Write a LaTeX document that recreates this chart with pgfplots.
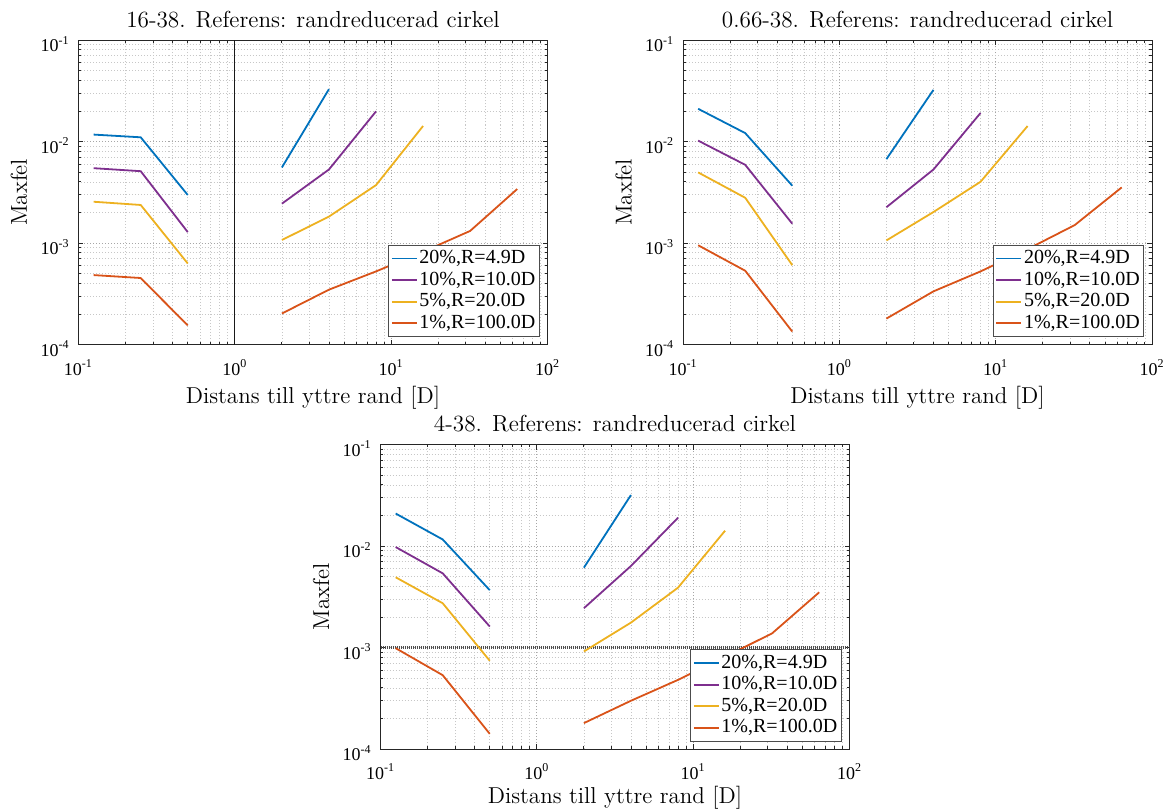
\documentclass[border=0pt]{standalone}
\usepackage{fontspec}
\usepackage{pgfplots}
\pgfplotsset{compat=1.18}
\newfontfamily\tnr{Liberation Serif}

\definecolor{mblue}{rgb}{0,0.447,0.741}
\definecolor{mred}{rgb}{0.85,0.325,0.098}
\definecolor{myellow}{rgb}{0.929,0.694,0.125}
\definecolor{mpurple}{rgb}{0.494,0.184,0.556}

% 1 px of the reference = 0.5pt
\pgfplotsset{
  matlabaxis/.style={
    scale only axis,
    width=234.5pt, height=152.25pt,
    xmin=0.1, xmax=100, ymin=1e-4, ymax=1e-1,
    unbounded coords=jump,
    axis line style={black!85, line width=0.5pt},
    tick style={black!85, line width=0.45pt},
    major tick length=2.5pt, minor tick length=1.4pt,
    tick align=inside, tick pos=both,
    xtick={0.1,1,10,100},
    xticklabels={10\textsuperscript{-1},10\textsuperscript{0},10\textsuperscript{1},10\textsuperscript{2}},
    minor xtick={0.2,0.3,0.4,0.5,0.6,0.7,0.8,0.9,2,3,4,5,6,7,8,9,20,30,40,50,60,70,80,90},
    ytick={1e-4,1e-3,1e-2,1e-1},
    yticklabels={10\textsuperscript{-4},10\textsuperscript{-3},10\textsuperscript{-2},10\textsuperscript{-1}},
    minor ytick={2e-4,3e-4,4e-4,5e-4,6e-4,7e-4,8e-4,9e-4,2e-3,3e-3,4e-3,5e-3,6e-3,7e-3,8e-3,9e-3,2e-2,3e-2,4e-2,5e-2,6e-2,7e-2,8e-2,9e-2},
    grid=both,
    major grid style={dash pattern=on 0.5pt off 1pt, black!35, line width=0.35pt},
    minor grid style={dash pattern=on 0.5pt off 1pt, black!22, line width=0.35pt},
    tick label style={font=\tnr\fontsize{9}{10}\selectfont, inner sep=0pt},
    xticklabel style={anchor=base, yshift=-15.25pt},
    yticklabel style={anchor=base east, xshift=-4.25pt, yshift=-5.85pt},
    title style={at={(0.5,1)}, anchor=base, yshift=0.5pt, font=\fontsize{11.6}{13}\selectfont},
    xlabel style={at={(axis description cs:0.5,0)}, anchor=base, yshift=-29.5pt, font=\fontsize{11.5}{13}\selectfont},
    ylabel style={at={(axis description cs:0,0.5)}, anchor=base, yshift=25.75pt, font=\fontsize{11.5}{13}\selectfont},
    xlabel={Distans till yttre rand [D]},
    ylabel={Maxfel},
    legend style={at={(1,0)}, anchor=south east, xshift=-4pt, yshift=3.75pt,
      font=\tnr\fontsize{10}{11}\selectfont, draw=black!70, line width=0.5pt,
      inner xsep=1pt, inner ysep=1.2pt, row sep=0pt,
      nodes={inner sep=0.9pt, text height=7pt, text depth=2pt}},
    legend cell align=left,
    legend image code/.code={\draw[##1] (0pt,0pt) -- (12.5pt,0pt);},
  },
}

\begin{document}
\begin{tikzpicture}
\useasboundingbox (0,0) rectangle (585pt,404.5pt);

% ---------- top left ----------
\begin{loglogaxis}[matlabaxis, at={(39.25pt,232.25pt)}, anchor=south west,
  title={16-38. Referens: randreducerad cirkel}]
\addplot[black!90, line width=0.5pt, forget plot] coordinates {(1,1e-4) (1,1e-1)};
\addplot[mblue, line width=0.9pt] coordinates {(0.125,0.0117) (0.25,0.0110) (0.5,0.00297) (1,nan) (2,0.00555) (4,0.0328)};
\addlegendentry{20\%,R=4.9D}
\addplot[mpurple, line width=0.9pt] coordinates {(0.125,0.00546) (0.25,0.0051) (0.5,0.00128) (1,nan) (2,0.00244) (4,0.0053) (8,0.0198)};
\addlegendentry{10\%,R=10.0D}
\addplot[myellow, line width=0.9pt] coordinates {(0.125,0.00255) (0.25,0.00237) (0.5,0.000628) (1,nan) (2,0.00107) (4,0.00182) (8,0.00372) (16,0.01422)};
\addlegendentry{5\%,R=20.0D}
\addplot[mred, line width=0.9pt] coordinates {(0.125,0.000483) (0.25,0.000452) (0.5,0.000154) (1,nan) (2,0.000202) (4,0.000347) (8,0.000525) (16,0.00082) (32,0.001315) (64,0.0034)};
\addlegendentry{1\%,R=100.0D}
\end{loglogaxis}

% ---------- top right ----------
\begin{loglogaxis}[matlabaxis, at={(341.5pt,232.25pt)}, anchor=south west,
  title={0.66-38. Referens: randreducerad cirkel}]
\addplot[mblue, line width=0.9pt] coordinates {(0.125,0.0210) (0.25,0.0121) (0.5,0.00367) (1,nan) (2,0.0067) (4,0.0323)};
\addlegendentry{20\%,R=4.9D}
\addplot[mpurple, line width=0.9pt] coordinates {(0.125,0.0102) (0.25,0.00589) (0.5,0.00155) (1,nan) (2,0.00225) (4,0.0053) (8,0.0191)};
\addlegendentry{10\%,R=10.0D}
\addplot[myellow, line width=0.9pt] coordinates {(0.125,0.00496) (0.25,0.00279) (0.5,0.000605) (1,nan) (2,0.00106) (4,0.00202) (8,0.00401) (16,0.0142)};
\addlegendentry{5\%,R=20.0D}
\addplot[mred, line width=0.9pt] coordinates {(0.125,0.00095) (0.25,0.000533) (0.5,0.000134) (1,nan) (2,0.00018) (4,0.000334) (8,0.000525) (16,0.00087) (32,0.0015) (64,0.00353)};
\addlegendentry{1\%,R=100.0D}
\end{loglogaxis}

% ---------- bottom ----------
\begin{loglogaxis}[matlabaxis, at={(190.25pt,30pt)}, anchor=south west,
  xlabel style={yshift=2.3pt},
  title={4-38. Referens: randreducerad cirkel}]
\addplot[black!70, line width=1.2pt, dash pattern=on 0.6pt off 0.4pt, forget plot] coordinates {(0.1,1e-3) (100,1e-3)};
\addplot[mblue, line width=0.9pt] coordinates {(0.125,0.0209) (0.25,0.0116) (0.5,0.00367) (1,nan) (2,0.00612) (4,0.0318)};
\addlegendentry{20\%,R=4.9D}
\addplot[mpurple, line width=0.9pt] coordinates {(0.125,0.00977) (0.25,0.00538) (0.5,0.00161) (1,nan) (2,0.00244) (4,0.00636) (8,0.0190)};
\addlegendentry{10\%,R=10.0D}
\addplot[myellow, line width=0.9pt] coordinates {(0.125,0.00492) (0.25,0.00273) (0.5,0.00074) (1,nan) (2,0.000914) (4,0.00176) (8,0.00389) (16,0.01416)};
\addlegendentry{5\%,R=20.0D}
\addplot[mred, line width=0.9pt] coordinates {(0.125,0.000985) (0.25,0.000534) (0.5,0.000141) (1,nan) (2,0.00018) (4,0.000299) (8,0.00048) (16,0.00081) (32,0.00138) (64,0.0035)};
\addlegendentry{1\%,R=100.0D}
\end{loglogaxis}
\end{tikzpicture}
\end{document}
